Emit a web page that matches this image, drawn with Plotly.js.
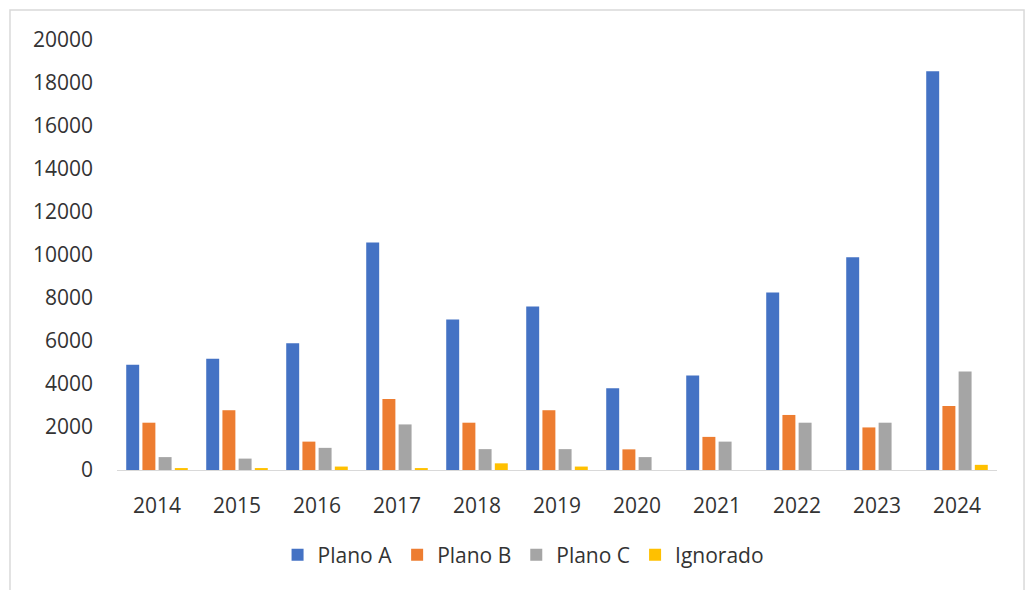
<!DOCTYPE html>
<html>
<head>
<meta charset="utf-8">
<script src="https://cdn.plot.ly/plotly-3.0.1.min.js"></script>
<style>html,body{margin:0;padding:0;background:#fff;}#chart{width:1030px;height:590px;}</style>
</head>
<body>
<div id="chart"></div>
<script>
const years = ["2014","2015","2016","2017","2018","2019","2020","2021","2022","2023","2024"];
const planoA = [4900, 5180, 5900, 10580, 7000, 7600, 3800, 4400, 8250, 9900, 18550];
const planoB = [2200, 2780, 1320, 3300, 2200, 2780, 960, 1540, 2560, 1980, 2980];
const planoC = [600, 530, 1030, 2120, 970, 970, 600, 1320, 2200, 2200, 4580];
const ignorado = [90, 90, 160, 90, 310, 160, 0, 0, 0, 0, 240];
const yTicks = [0,2000,4000,6000,8000,10000,12000,14000,16000,18000,20000];
const seriesNames = ["Plano A", "Plano B", "Plano C", "Ignorado"];
const seriesColors = ["#4472C4", "#ED7D31", "#A5A5A5", "#FFC000"];
const seriesValues = [planoA, planoB, planoC, ignorado];

const traces = seriesValues.map((vals, i) => ({
  type: "bar",
  name: seriesNames[i],
  x: years,
  y: vals,
  marker: {color: seriesColors[i], line: {width: 0}},
  hoverinfo: "x+y+name"
}));

const layout = {
  width: 1030,
  height: 590,
  margin: {l: 117, r: 33, t: 40, b: 120},
  paper_bgcolor: "#ffffff",
  plot_bgcolor: "#ffffff",
  barmode: "group",
  bargap: 0.19,
  bargroupgap: 0.2,
  font: {family: "Open Sans, sans-serif", size: 21, color: "#333333"},
  xaxis: {
    type: "category",
    showline: true,
    linecolor: "#d9d9d9",
    linewidth: 1,
    ticks: "",
    showgrid: false,
    zeroline: false,
    ticklabelstandoff: 17,
    tickfont: {size: 21, color: "#333333"}
  },
  yaxis: {
    range: [0, 20000],
    tickvals: yTicks,
    ticktext: yTicks.map(String),
    showgrid: false,
    zeroline: false,
    showline: false,
    ticks: "",
    ticklabelstandoff: 23,
    tickfont: {size: 21, color: "#333333"}
  },
  legend: {
    orientation: "h",
    x: 0.462,
    xanchor: "center",
    y: -0.198,
    yanchor: "middle",
    font: {size: 21, color: "#333333"},
    itemwidth: 30
  },
  shapes: [{
    type: "rect",
    xref: "paper", yref: "paper",
    x0: -0.1216, x1: 1.0307,
    y0: -0.3, y1: 1.0698,
    line: {color: "#d9d9d9", width: 1.5},
    fillcolor: "rgba(0,0,0,0)",
    layer: "below"
  }],
  showlegend: true
};

Plotly.newPlot("chart", traces, layout, {displayModeBar: false, staticPlot: true});
</script>
</body>
</html>
